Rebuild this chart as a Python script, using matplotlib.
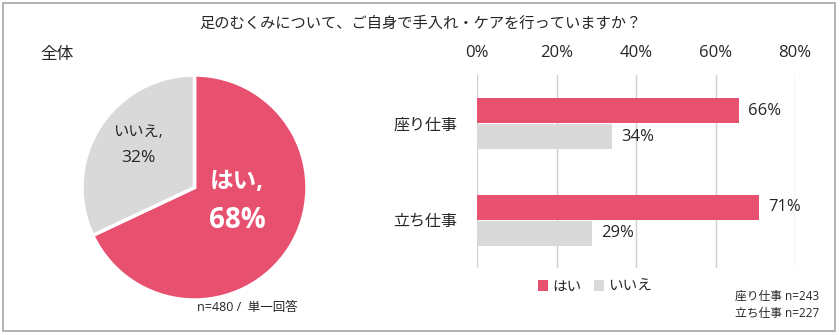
import matplotlib
import matplotlib.pyplot as plt
from matplotlib.patches import Rectangle
import numpy as np

matplotlib.use("Agg")
plt.rcParams["font.family"] = ["Open Sans", "Noto Sans CJK JP", "DejaVu Sans"]

PINK = "#E8506F"
GRAY = "#D9D9D9"
TXT = "#262626"

title = "足のむくみについて、ご自身で手入れ・ケアを行っていますか？"
pie_labels = ["はい", "いいえ"]
pie_values = [68, 32]
categories = ["座り仕事", "立ち仕事"]
yes_values = [66, 71]
no_values = [34, 29]
x_ticks = [0, 20, 40, 60, 80]

W, H = 840, 335
fig = plt.figure(figsize=(W / 100, H / 100), dpi=100)


def box(x0, y0, x1, y1):
    # pixel box (top-left origin) -> figure fraction
    return [x0 / W, 1 - y1 / H, (x1 - x0) / W, (y1 - y0) / H]


# outer frame
fig.patches.append(Rectangle((3 / W, 1 - 331 / H), 832 / W, 328 / H, transform=fig.transFigure,
                             fill=False, edgecolor="#A6A6A6", linewidth=1.2))

fig.text(420 / W, 1 - 24 / H, title, ha="center", va="center", fontsize=11, color=TXT)
fig.text(40 / W, 1 - 55 / H, "全体", ha="left", va="center", fontsize=12, color=TXT)

# pie
axp = fig.add_axes(box(82, 75, 307, 300))
axp.pie(pie_values, colors=[PINK, GRAY], startangle=90, counterclock=False, radius=1,
        wedgeprops=dict(edgecolor="white", linewidth=2.5))
axp.set_xlim(-1, 1)
axp.set_ylim(-1, 1)
axp.set_aspect("equal")
axp.text(0.38, 0.05, f"{pie_labels[0]},", ha="center", va="center",
         fontsize=17, fontweight="bold", color="white")
axp.text(0.38, -0.29, f"{pie_values[0]}%", ha="center", va="center",
         fontsize=20, fontweight="bold", color="white")
axp.text(-0.50, 0.49, f"{pie_labels[1]},", ha="center", va="center", fontsize=11, color=TXT)
axp.text(-0.50, 0.26, f"{pie_values[1]}%", ha="center", va="center", fontsize=12.5, color=TXT)
fig.text(197 / W, 1 - 307 / H, "n=480 /  単一回答", ha="left", va="center", fontsize=9, color=TXT)

# bars
axb = fig.add_axes(box(477, 75, 795, 268))
y = np.arange(len(categories))
h = 0.26
axb.barh(y - h / 2, yes_values, height=h, color=PINK, label=pie_labels[0])
axb.barh(y + h / 2 + 0.01, no_values, height=h, color=GRAY, label=pie_labels[1])
for i in range(len(categories)):
    axb.text(yes_values[i] + 2.3, y[i] - h / 2, f"{yes_values[i]}%", va="center", ha="left",
             fontsize=12, color=TXT)
    axb.text(no_values[i] + 2.3, y[i] + h / 2 + 0.01, f"{no_values[i]}%", va="center", ha="left",
             fontsize=12, color=TXT)
axb.set_xlim(0, 80)
axb.set_ylim(1.5, -0.5)
axb.set_xticks(x_ticks)
axb.set_xticklabels([f"{t}%" for t in x_ticks], fontsize=12, color=TXT)
axb.xaxis.tick_top()
axb.tick_params(axis="x", length=0, pad=10)
axb.set_yticks(y)
axb.set_yticklabels(categories, fontsize=11.5, color=TXT)
axb.tick_params(axis="y", length=0, pad=14)
axb.grid(axis="x", color="#D0D0D0", linewidth=1)
axb.set_axisbelow(True)
for s in axb.spines.values():
    s.set_visible(False)

axb.legend(loc="center", bbox_to_anchor=(595 / W, 1 - 287 / H), bbox_transform=fig.transFigure,
           ncol=2, frameon=False, fontsize=10.5, handlelength=0.7, handleheight=0.7,
           handletextpad=0.3, columnspacing=0.8, labelcolor=TXT)

fig.text(735 / W, 1 - 296 / H, "座り仕事 n=243", ha="left", va="center", fontsize=8.5, color=TXT)
fig.text(735 / W, 1 - 314 / H, "立ち仕事 n=227", ha="left", va="center", fontsize=8.5, color=TXT)

fig.savefig("out.png", dpi=100, facecolor="white")
